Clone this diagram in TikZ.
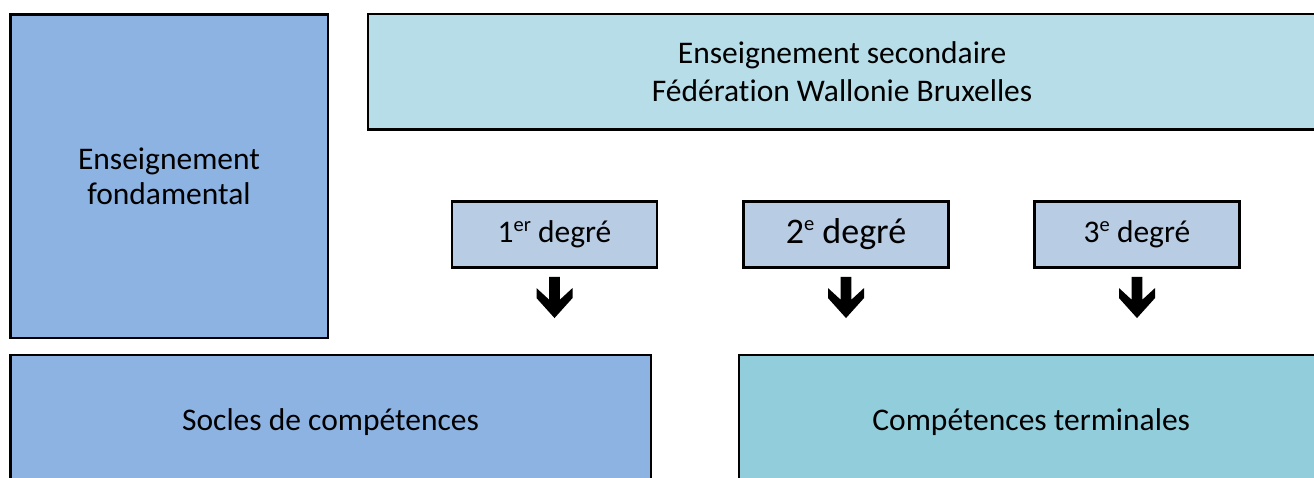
\documentclass[tikz,border=0pt]{standalone}
\usepackage{fontspec}
\setmainfont{Carlito}[Ligatures=NoCommon]
\definecolor{blueA}{RGB}{141,179,226}
\definecolor{cyanA}{RGB}{183,221,232}
\definecolor{degA}{RGB}{184,204,228}
\definecolor{termA}{RGB}{146,205,220}
\newcommand\myexp[1]{\raisebox{0.36em}{\fontsize{20.5}{20.5}\selectfont #1}}
\tikzset{
  box/.style={draw=black, line width=2.5pt, rectangle, inner sep=0pt, align=center,
    font=\fontsize{31.5}{38}\selectfont, text=black},
  degbox/.style={box, fill=degA, minimum width=205pt, minimum height=66pt},
  downarr/.pic={\fill[black] (-5.3,0) -- (5.3,0) -- (5.3,23) -- (18,11.3) -- (18,21.3) -- (0,41.3)
     -- (-18,21.3) -- (-18,11.3) -- (-5.3,23) -- cycle;}
}
\begin{document}
\begin{tikzpicture}[x=1pt,y=-1pt]
\useasboundingbox (0,0) rectangle (1314,477);
\clip (0,0) rectangle (1314,477);
\node[box, fill=blueA, minimum width=317.5pt, minimum height=323.5pt,
  font=\fontsize{31.5}{35}\selectfont] (fond) at (169,176) {Enseignement\\fondamental};
\node[box, fill=cyanA, minimum width=947.8pt, minimum height=115.4pt] (sec) at (842.1,71.9)
  {Enseignement secondaire\\Fédération Wallonie Bruxelles};
\node[degbox] (d1) at (554.5,234.5) {1\myexp{er} degré};
\node[degbox, font=\fontsize{36}{40}\selectfont] (d2) at (846,234.5) {2\myexp{e} degré};
\node[degbox] (d3) at (1137,234.5) {3\myexp{e} degré};
\pic at ([yshift=-8pt]d1.south) {downarr};
\pic at ([yshift=-8pt]d2.south) {downarr};
\pic at ([yshift=-8pt]d3.south) {downarr};
\node[box, fill=blueA, minimum width=640.5pt, minimum height=132.8pt] (soc) at (330.5,421.6) {Socles de compétences};
\node[box, fill=termA, minimum width=584pt, minimum height=132.8pt] (term) at (1031.2,421.6) {Compétences terminales};
\end{tikzpicture}
\end{document}
